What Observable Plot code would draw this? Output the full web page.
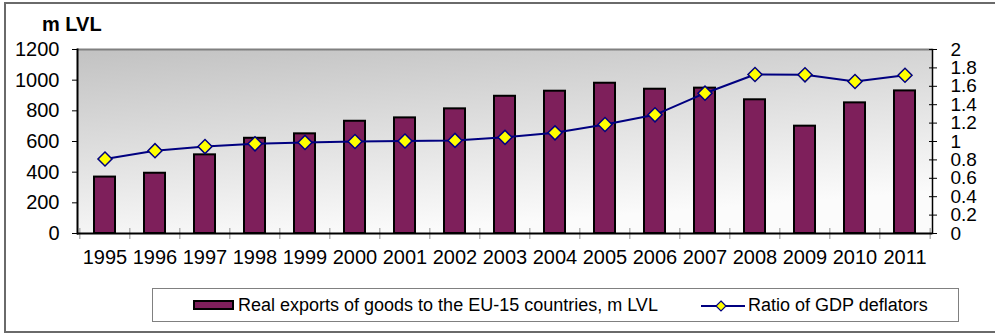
<!DOCTYPE html>
<html><head><meta charset="utf-8">
<script src="https://cdn.jsdelivr.net/npm/d3@7"></script>
<script src="https://cdn.jsdelivr.net/npm/@observablehq/plot@0.6"></script>
<style>
body{margin:0;background:#fff;font-family:"Liberation Sans",Arial,sans-serif;}
#wrap{position:relative;width:995px;height:335px;overflow:hidden;}
#border{position:absolute;left:4px;top:2px;width:1010px;height:327px;border:2px solid #6a6a6a;}
#title{position:absolute;left:42px;top:13px;font-weight:bold;font-size:20px;color:#000;}
#legend{position:absolute;left:152px;top:288px;width:805px;height:32px;border:1.5px solid #808080;background:#fff;}
#legend .sw{position:absolute;}
#legend .tx{position:absolute;top:6px;font-size:18px;line-height:20px;color:#000;white-space:nowrap;}
#chart{position:absolute;left:0;top:0;}
</style></head>
<body>
<div id="wrap">
  <div id="border"></div>
  <div id="chart"></div>
  <div id="title">m LVL</div>
  <div id="legend"></div>
</div>
<script>
const years = ["1995","1996","1997","1998","1999","2000","2001","2002","2003","2004","2005","2006","2007","2008","2009","2010","2011"];
const exportsVals = [368, 393, 513, 621, 650, 732, 754, 813, 895, 928, 980, 941, 948, 872, 700, 852, 930];
const ratioVals = [0.81, 0.90, 0.945, 0.975, 0.99, 1.0, 1.005, 1.012, 1.045, 1.094, 1.185, 1.29, 1.525, 1.728, 1.725, 1.652, 1.72];
const leftTicks = [0, 200, 400, 600, 800, 1000, 1200];
const ratioTicks = [0, 0.2, 0.4, 0.6, 0.8, 1, 1.2, 1.4, 1.6, 1.8, 2];
const seriesNames = ["Real exports of goods to the EU-15 countries, m LVL", "Ratio of GDP deflators"];

const data = years.map((y, i) => ({year: y, exports: exportsVals[i], ratio: ratioVals[i]}));
const ratioScale = 1200 / 2;
const fmtRatio = d => String(+(d / ratioScale).toFixed(1));

const W = 995, H = 335, mL = 77, mR = 63, mT = 49, mB = 102;
const step = (W - mL - mR) / years.length;

const chart = Plot.plot({
  width: W, height: H,
  marginLeft: mL, marginRight: mR, marginTop: mT, marginBottom: mB,
  style: {fontFamily: '"Liberation Sans", Arial, sans-serif', fontSize: "20px", color: "#000", background: "transparent", overflow: "visible"},
  x: {domain: years, paddingInner: 0.58, paddingOuter: 0.29, axis: null},
  y: {domain: [0, 1200], axis: null},
  marks: [
    Plot.frame({fill: "url(#plotbg)", stroke: null}),
    Plot.ruleY([1200], {stroke: "#808080", strokeWidth: 2}),
    Plot.barY(data, {x: "year", y: "exports", fill: "#7E1F5B", stroke: "#000", strokeWidth: 2}),
    Plot.line(data, {x: "year", y: d => d.ratio * ratioScale, stroke: "#000080", strokeWidth: 2}),
    Plot.dot(data, {x: "year", y: d => d.ratio * ratioScale, symbol: "square", r: 5.6, rotate: 45, fill: "#FFFF00", stroke: "#000080", strokeWidth: 1.5}),
    Plot.axisY({anchor: "left", ticks: leftTicks, tickSize: 5, tickPadding: 13, tickFormat: d => String(d), fontSize: 20, label: null, stroke: "#000"}),
    Plot.frame({anchor: "left", stroke: "#000", strokeWidth: 2}),
    Plot.axisY({anchor: "right", ticks: ratioTicks.map(v => v * ratioScale), tickSize: 8, dx: -4, tickFormat: () => "", label: null, stroke: "#000"}),
    Plot.axisY({anchor: "right", ticks: ratioTicks.map(v => v * ratioScale), tickSize: 0, tickPadding: 18, tickFormat: fmtRatio, fontSize: 19, label: null}),
    Plot.frame({anchor: "right", stroke: "#000", strokeWidth: 1.5}),
    Plot.axisX({anchor: "bottom", ticks: years, tickSize: 11, dy: -5, dx: -step / 2, tickFormat: () => "", label: null, stroke: "#909090"}),
    Plot.axisX({anchor: "bottom", ticks: [years[years.length - 1]], tickSize: 11, dy: -5, dx: step / 2, tickFormat: () => "", label: null, stroke: "#909090"}),
    Plot.ruleY([0], {stroke: "#000", strokeWidth: 2}),
    Plot.axisX({anchor: "bottom", ticks: years, tickSize: 0, tickPadding: 16, fontSize: 20, label: null})
  ]
});

const svg = d3.select(chart);
const defs = svg.insert("defs", ":first-child");
const g = defs.append("linearGradient").attr("id", "plotbg")
  .attr("x1", "0").attr("y1", "0").attr("x2", "0.35").attr("y2", "1");
g.append("stop").attr("offset", "0%").attr("stop-color", "#c2c2c2");
g.append("stop").attr("offset", "100%").attr("stop-color", "#fbfbfb");
document.getElementById("chart").appendChild(chart);

// legend
const lg = d3.select("#legend");
lg.append("div").attr("class", "sw")
  .style("left", "40px").style("top", "11px").style("width", "37px").style("height", "6px")
  .style("background", "#7E1F5B").style("border", "2px solid #000");
lg.append("div").attr("class", "tx").style("left", "85px").text(seriesNames[0]);
const ls = lg.append("svg").attr("class", "sw").style("left", "547px").style("top", "8px")
  .attr("width", 46).attr("height", 18);
ls.append("line").attr("x1", 1).attr("x2", 45).attr("y1", 9).attr("y2", 9)
  .attr("stroke", "#000080").attr("stroke-width", 2);
ls.append("path").attr("d", "M21,4 L26,9 L21,14 L16,9 Z")
  .attr("fill", "#FFFF00").attr("stroke", "#000080").attr("stroke-width", 1.2);
lg.append("div").attr("class", "tx").style("left", "595px").text(seriesNames[1]);
</script>
</body></html>
